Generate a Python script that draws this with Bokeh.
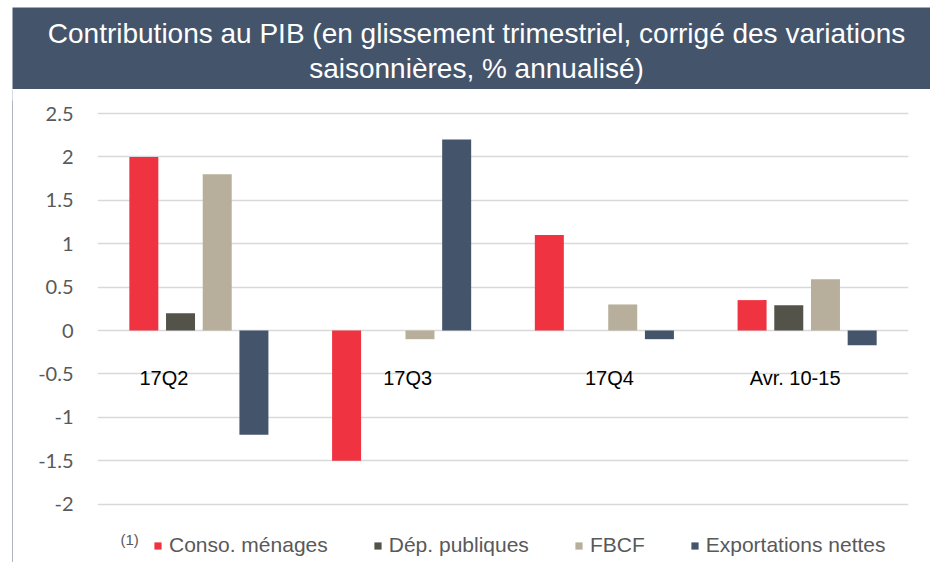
from bokeh.plotting import figure
from bokeh.models import (FactorRange, Range1d, FixedTicker, Legend, LegendItem,
                          Label, ColumnDataSource, Spacer)
from bokeh.layouts import column, row
from bokeh.transform import dodge
from bokeh.core.properties import value
from bokeh.embed import file_html
from bokeh.resources import INLINE

# ---------------- data ----------------
categories = ["17Q2", "17Q3", "17Q4", "Avr. 10-15"]
conso_menages = [2.0, -1.5, 1.1, 0.35]
dep_publiques = [0.2, 0.0, 0.0, 0.29]
fbcf = [1.8, -0.1, 0.3, 0.59]
exportations_nettes = [-1.2, 2.2, -0.1, -0.17]
series_names = ["Conso. ménages", "Dép. publiques", "FBCF", "Exportations nettes"]
y_ticks = [-2, -1.5, -1, -0.5, 0, 0.5, 1, 1.5, 2, 2.5]
y_tick_labels = ["-2", "-1.5", "-1", "-0.5", "0", "0.5", "1", "1.5", "2", "2.5"]
title_lines = ["Contributions au PIB (en glissement trimestriel, corrigé des variations",
               "saisonnières, % annualisé)"]
footnote = "(1)"

# ---------------- style ----------------
BAND = "#44546A"
LINEC = "#5B6F86"
colors = ["#EF3340", "#53534A", "#B7AF9B", "#44546A"]
offsets = [-0.2715, -0.0905, 0.0905, 0.2715]
label_dx = [-35, 6, 5, -12]
FONT = "Liberation Sans"

# ---------------- title band ----------------
tf = figure(width=918, height=82, x_range=Range1d(0, 918), y_range=Range1d(0, 82),
            output_backend="svg", toolbar_location=None, min_border=0,
            x_axis_location=None, y_axis_location=None,
            background_fill_color=BAND, border_fill_color=BAND, outline_line_color=None)
tf.grid.visible = False
for txt, yy in zip(title_lines, [56, 21]):
    tf.add_layout(Label(x=464, y=yy, text=txt, text_align="center", text_baseline="middle",
                        text_color="white", text_font=FONT, text_font_size="28px"))

# ---------------- left rule ----------------
lf = figure(width=1, height=473, output_backend="svg", toolbar_location=None, min_border=0,
            x_axis_location=None, y_axis_location=None,
            background_fill_color=LINEC, border_fill_color=LINEC, outline_line_color=None)
lf.grid.visible = False

# ---------------- chart ----------------
src = ColumnDataSource(dict(cat=categories, s0=conso_menages, s1=dep_publiques,
                            s2=fbcf, s3=exportations_nettes, dx=label_dx))

p = figure(width=917, height=473, x_range=FactorRange(*categories, range_padding=0),
           y_range=Range1d(-2.673, 2.65), output_backend="svg", toolbar_location=None,
           min_border_left=84, min_border_right=22, min_border_top=11, min_border_bottom=0,
           x_axis_location=None, outline_line_color=None,
           background_fill_color="white", border_fill_color="white")

p.xgrid.visible = False
p.ygrid.ticker = FixedTicker(ticks=y_ticks)
p.ygrid.grid_line_color = "#D9D9D9"
p.ygrid.grid_line_width = 1.6

yaxis = p.yaxis[0]
yaxis.ticker = FixedTicker(ticks=y_ticks)
yaxis.major_label_overrides = {float(t): l for t, l in zip(y_ticks, y_tick_labels)}
yaxis.axis_line_color = None
yaxis.major_tick_line_color = None
yaxis.minor_tick_line_color = None
yaxis.major_label_standoff = 18
yaxis.major_label_text_font = "Lato"
yaxis.major_label_text_font_size = "20px"
yaxis.major_label_text_color = "#595959"

renderers = []
for i, key in enumerate(["s0", "s1", "s2", "s3"]):
    r = p.vbar(x=dodge("cat", offsets[i], range=p.x_range), top=key, width=0.143,
               source=src, fill_color=colors[i], line_color=None)
    renderers.append(r)

p.text(x="cat", y=-0.55, text="cat", x_offset="dx", source=src,
       text_align="center", text_baseline="middle", text_color="black",
       text_font=value(FONT), text_font_size="20px")

legend = Legend(items=[LegendItem(label=n, renderers=[r]) for n, r in zip(series_names, renderers)],
                location=(56, 5), orientation="horizontal",
                glyph_width=9, glyph_height=9, label_standoff=7, spacing=45,
                padding=0, margin=0, border_line_color=None, background_fill_alpha=0,
                label_text_font=FONT, label_text_font_size="21px",
                label_text_color="#595959")
p.add_layout(legend)

p.add_layout(Label(x=23, y=23, x_units="screen", y_units="screen", text=footnote,
                   text_font=FONT, text_font_size="15px", text_color="#595959",
                   text_baseline="middle"))

layout = column(Spacer(width=930, height=7),
                row(Spacer(width=12, height=82), tf),
                row(Spacer(width=12, height=473), lf, p))

open("out.html", "w").write(file_html(layout, INLINE))
